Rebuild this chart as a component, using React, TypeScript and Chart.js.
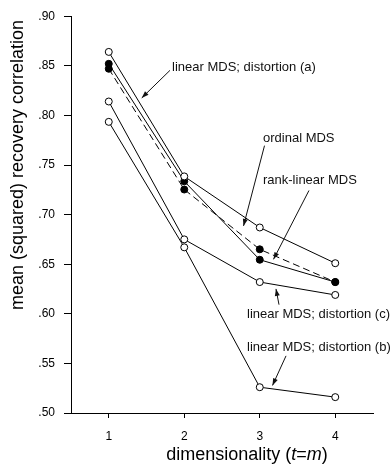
import React, { useEffect, useRef } from 'react';
import { Chart, registerables } from 'chart.js';

Chart.register(...registerables);

// ---- data ----
const dims = [1, 2, 3, 4];
const xTickLabels = ['1', '2', '3', '4'];
const linearA = [0.864, 0.7385, 0.687, 0.651];
const ordinal = [0.847, 0.7253, 0.665, 0.632];
const rankLinear = [0.852, 0.7336, 0.6545, 0.632];
const linearC = [0.814, 0.675, 0.632, 0.619];
const linearB = [0.7935, 0.667, 0.526, 0.516];
const yTickValues = [0.5, 0.55, 0.6, 0.65, 0.7, 0.75, 0.8, 0.85, 0.9];
const yTickLabels = ['.50', '.55', '.60', '.65', '.70', '.75', '.80', '.85', '.90'];

// annotation labels (text anchor + arrow from/to, in data units)
const noteTexts = [
  'linear MDS; distortion (a)',
  'ordinal MDS',
  'rank-linear MDS',
  'linear MDS; distortion (c)',
  'linear MDS; distortion (b)',
];
const noteTextAt = [
  [1.838, 0.8484],
  [3.043, 0.7769],
  [3.043, 0.7345],
  [2.831, 0.5996],
  [2.831, 0.5658],
];
const noteArrowFrom = [
  [1.811, 0.8454],
  [3.063, 0.7695],
  [3.652, 0.7243],
  [3.255, 0.6092],
  [3.348, 0.5576],
];
const noteArrowTo = [
  [1.437, 0.8176],
  [2.785, 0.6886],
  [3.182, 0.6549],
  [3.215, 0.6251],
  [3.169, 0.5278],
];

const FONT = '"Liberation Sans", Arial, Helvetica, sans-serif';

const toPts = (vals: number[]) => vals.map((v, i) => ({ x: dims[i], y: v }));

const notesPlugin = {
  id: 'notesPlugin',
  afterDraw(chart: any) {
    const { ctx, scales } = chart;
    const xs = scales.x;
    const ys = scales.y;
    ctx.save();
    ctx.fillStyle = '#111';
    ctx.strokeStyle = '#111';
    ctx.lineWidth = 1;
    ctx.font = `13px ${FONT}`;
    ctx.textBaseline = 'middle';
    ctx.textAlign = 'left';
    noteTexts.forEach((t, i) => {
      ctx.fillText(t, xs.getPixelForValue(noteTextAt[i][0]), ys.getPixelForValue(noteTextAt[i][1]));
      const x1 = xs.getPixelForValue(noteArrowFrom[i][0]);
      const y1 = ys.getPixelForValue(noteArrowFrom[i][1]);
      const x2 = xs.getPixelForValue(noteArrowTo[i][0]);
      const y2 = ys.getPixelForValue(noteArrowTo[i][1]);
      ctx.beginPath();
      ctx.moveTo(x1, y1);
      ctx.lineTo(x2, y2);
      ctx.stroke();
      const a = Math.atan2(y2 - y1, x2 - x1);
      const L = 7;
      const W = 2.5;
      ctx.beginPath();
      ctx.moveTo(x2, y2);
      ctx.lineTo(x2 - L * Math.cos(a) + W * Math.sin(a), y2 - L * Math.sin(a) - W * Math.cos(a));
      ctx.lineTo(x2 - L * Math.cos(a) - W * Math.sin(a), y2 - L * Math.sin(a) + W * Math.cos(a));
      ctx.closePath();
      ctx.fill();
    });

    // x axis title with italic parts
    const parts: [string, boolean][] = [
      ['dimensionality (', false],
      ['t', true],
      ['=', false],
      ['m', true],
      [')', false],
    ];
    const size = 18;
    let total = 0;
    parts.forEach(([s, it]) => {
      ctx.font = `${it ? 'italic ' : ''}${size}px ${FONT}`;
      total += ctx.measureText(s).width;
    });
    let cx = xs.getPixelForValue(2.83) - total / 2;
    const ty = chart.height - 15;
    ctx.textAlign = 'left';
    ctx.fillStyle = '#000';
    parts.forEach(([s, it]) => {
      ctx.font = `${it ? 'italic ' : ''}${size}px ${FONT}`;
      ctx.fillText(s, cx, ty);
      cx += ctx.measureText(s).width;
    });

    // y axis title
    ctx.translate(18, 165);
    ctx.rotate(-Math.PI / 2);
    ctx.textAlign = 'center';
    ctx.font = `${size}px ${FONT}`;
    ctx.fillText('mean (squared) recovery correlation', 0, 0);
    ctx.restore();
  },
};

function ds(label: string, vals: number[], filled: boolean, dashed: boolean) {
  return {
    label,
    data: toPts(vals),
    borderColor: '#000',
    borderWidth: 1,
    borderDash: dashed ? [7, 4] : [],
    pointRadius: 3.5,
    pointHoverRadius: 3.5,
    pointBorderWidth: 1,
    pointBorderColor: '#000',
    pointBackgroundColor: filled ? '#000' : '#fff',
    tension: 0,
    fill: false,
  };
}

export default function App() {
  const ref = useRef<HTMLCanvasElement | null>(null);
  useEffect(() => {
    if (!ref.current) return;
    const chart = new Chart(ref.current, {
      type: 'line',
      data: {
        datasets: [
          ds('linear MDS; distortion (a)', linearA, false, false),
          ds('ordinal MDS', ordinal, true, true),
          ds('rank-linear MDS', rankLinear, true, false),
          ds('linear MDS; distortion (c)', linearC, false, false),
          ds('linear MDS; distortion (b)', linearB, false, false),
        ],
      },
      options: {
        animation: false,
        responsive: true,
        maintainAspectRatio: false,
        layout: { padding: { left: 0, top: 10, right: 18, bottom: 0 } },
        plugins: { legend: { display: false }, tooltip: { enabled: false }, title: { display: false } },
        scales: {
          x: {
            type: 'linear',
            min: 0.5,
            max: 4.5,
            afterBuildTicks: (s: any) => {
              s.ticks = dims.map((v) => ({ value: v }));
            },
            afterFit: (s: any) => {
              s.height = 57;
            },
            ticks: {
              color: '#000',
              font: { family: FONT, size: 12 },
              padding: 11,
              maxRotation: 0,
              autoSkip: false,
              callback: (_v: any, i: number) => xTickLabels[i],
            },
            grid: { display: true, drawOnChartArea: false, drawTicks: true, tickLength: 5, color: '#000', tickColor: '#000' },
            border: { display: true, color: '#000', width: 1 },
          },
          y: {
            type: 'linear',
            min: 0.5,
            max: 0.9,
            afterBuildTicks: (s: any) => {
              s.ticks = yTickValues.map((v) => ({ value: v }));
            },
            afterFit: (s: any) => {
              s.width = 71;
            },
            ticks: {
              color: '#000',
              font: { family: FONT, size: 12 },
              padding: 9,
              autoSkip: false,
              callback: (_v: any, i: number) => yTickLabels[i],
            },
            grid: { display: true, drawOnChartArea: false, drawTicks: true, tickLength: 7, color: '#000', tickColor: '#000' },
            border: { display: true, color: '#000', width: 1 },
          },
        },
      },
      plugins: [notesPlugin],
    });
    return () => chart.destroy();
  }, []);
  return (
    <div style={{ position: 'fixed', left: 0, top: 0, width: 391, height: 470, background: '#fff' }}>
      <canvas ref={ref} />
    </div>
  );
}
